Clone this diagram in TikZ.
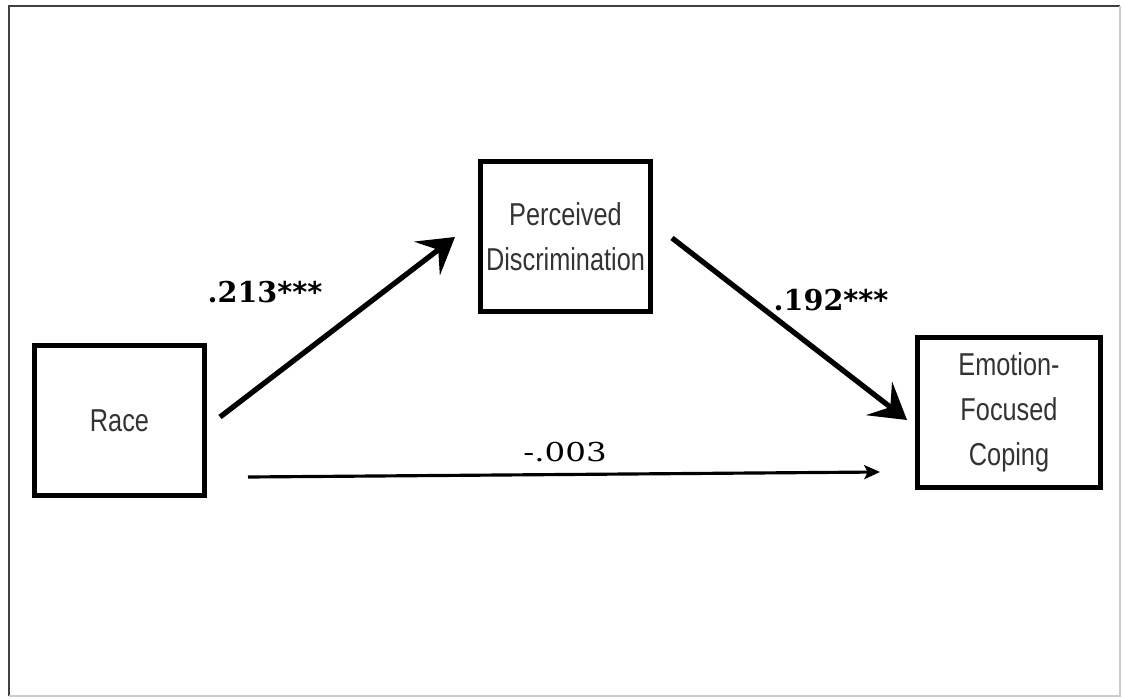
\documentclass[tikz,border=0pt]{standalone}
\usepackage{fontspec}
\usetikzlibrary{arrows.meta}

\newfontfamily\boxfont[FakeStretch=0.8]{Liberation Sans}
\newfontfamily\coeffont{DejaVu Serif}
\newfontfamily\coefwide[FakeStretch=1.25]{DejaVu Serif}
\newfontfamily\starfont{DejaVu Sans}
\newcommand\sigstars{{\starfont\bfseries ***}}

\tikzset{
  varbox/.style={draw, line width=2.6pt, minimum height=3.0cm, inner sep=0pt,
    align=center, text=black!80, font=\boxfont\fontsize{18}{25.5}\selectfont},
  bigarrow/.style={line width=3pt, -{Stealth[length=20pt, width=24pt, inset=8pt]}},
  thinarrow/.style={line width=1.8pt, -{Stealth[length=9pt, width=8pt, inset=2pt]}},
  coef/.style={inner sep=0pt, font=\coeffont\bfseries\fontsize{16.3}{18}\selectfont},
  coefplain/.style={inner sep=0pt, font=\coefwide\fontsize{14.8}{17}\selectfont}
}

\begin{document}
\begin{tikzpicture}
\useasboundingbox (0,0) rectangle (22.5,13.96);

% frame
\draw[line width=1.6pt, black!75] (0.18,0.04)--(0.18,13.84)--(22.40,13.84);
\draw[line width=1pt, black!20] (22.40,13.84)--(22.40,0.04)--(0.18,0.04);

% variables
\node[varbox, minimum width=3.4cm] (race) at (2.39,5.55) {Race};
\node[varbox, minimum width=3.4cm] (perc) at (11.31,9.23) {Perceived\\Discrimination};
\node[varbox, minimum width=3.66cm] (efc) at (20.18,5.71) {Emotion-\\Focused\\Coping};

% paths
\coordinate (a1) at (4.40,5.62);
\coordinate (a2) at (9.10,9.22);
\coordinate (b1) at (13.44,9.20);
\coordinate (b2) at (18.14,5.56);
\coordinate (c1) at (4.96,4.42);
\coordinate (c2) at (17.60,4.52);

\draw[bigarrow] (a1)--(a2);
\draw[bigarrow] (b1)--(b2);
\draw[thinarrow] (c1)--(c2);

\node[coef] (ra) at (5.30,8.12) {.213\sigstars};
\node[coef] (rb) at (16.62,7.96) {.192\sigstars};
\node[coefplain] (rc) at (11.30,4.92) {-.003};
\end{tikzpicture}
\end{document}
